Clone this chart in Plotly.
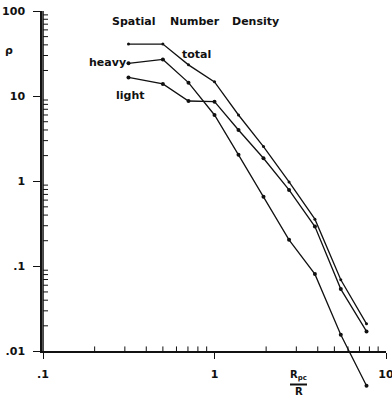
import plotly.graph_objects as go

# data
r_over_rbar = [0.315, 0.5, 0.705, 1.0, 1.38, 1.93, 2.72, 3.85, 5.45, 7.7]
total = [40.9, 40.9, 23.3, 14.7, 6.0, 2.55, 0.98, 0.358, 0.0695, 0.0211]
heavy = [24.3, 27.0, 14.4, 6.0, 2.04, 0.659, 0.205, 0.081, 0.0157, 0.00395]
light = [16.6, 13.9, 8.76, 8.6, 4.0, 1.86, 0.79, 0.293, 0.054, 0.0172]

y_tickvals = [0.01, 0.1, 1, 10, 100]
y_ticktext = [".01", ".1", "1", "10", "100"]
x_tickvals = [0.1, 1, 10]
x_ticktext = [".1", "1", "10"]
y_minor = [k * 10.0 ** e for e in (-2, -1, 0, 1) for k in range(2, 10)]
x_minor = [k * 10.0 ** e for e in (-1, 0) for k in range(2, 10)]

W, H = 392, 402
L, R, T, B = 42, 6, 11, 8
FONT = "DejaVu Sans"
Y_RANGE = [-2.0, 2.0]        # visible axis (.01 .. 100)
Y_BELOW = [-2.5, -2.0]       # strip under the x axis where the heavy curve ends
X_RANGE = [-1.006, 1.0]
y_dom0 = (Y_BELOW[1] - Y_BELOW[0]) / (Y_RANGE[1] - Y_BELOW[0])

def px(x, y):
    return (x - L) / (W - L - R), (H - B - y) / (H - T - B)

fig = go.Figure()
line_style = dict(color="#111", width=1.3)
series = [("total", total, 3), ("heavy", heavy, 4), ("light", light, 4)]
for name, vals, ms in series:
    fig.add_trace(go.Scatter(
        x=r_over_rbar, y=vals, mode="lines+markers", name=name,
        xaxis="x", yaxis="y", line=line_style,
        marker=dict(color="#111", size=ms, symbol="circle"),
        cliponaxis=True, showlegend=False, hoverinfo="x+y+name"))
# the heavy curve continues below the x axis (same data, lower strip of the same scale)
fig.add_trace(go.Scatter(
    x=r_over_rbar, y=heavy, mode="lines+markers", name="heavy",
    xaxis="x", yaxis="y3", line=line_style,
    marker=dict(color="#111", size=4, symbol="circle"),
    cliponaxis=True, showlegend=False, hoverinfo="x+y+name"))
# vertical axis line at x = .1 spanning the labelled y range
fig.add_trace(go.Scatter(
    x=[x_tickvals[0], x_tickvals[0]], y=[y_tickvals[0], y_tickvals[-1]], mode="lines",
    xaxis="x", yaxis="y", line=dict(color="#111", width=1.5),
    showlegend=False, hoverinfo="skip"))

tickfont = dict(family=FONT, size=11, color="#111", weight="bold")
base = dict(type="log", showgrid=False, zeroline=False, tickcolor="#111", automargin=False)

fig.update_layout(
    xaxis=dict(range=X_RANGE, domain=[0, 1], anchor="y",
               tickvals=x_tickvals, ticktext=x_ticktext, ticks="outside", ticklen=6,
               tickwidth=1.3, tickfont=tickfont, ticklabelstandoff=6,
               ticklabeloverflow="allow",
               showline=True, linecolor="#111", linewidth=1.5, **base),
    yaxis=dict(range=Y_RANGE, domain=[y_dom0, 1], anchor="x",
               tickvals=y_tickvals, ticktext=y_ticktext, ticks="outside", ticklen=7,
               tickwidth=1.3, tickfont=tickfont, ticklabelstandoff=6,
               ticklabeloverflow="allow",
               showline=True, linecolor="#111", linewidth=1.5, **base),
    yaxis3=dict(range=Y_BELOW, domain=[0, y_dom0], anchor="x", visible=False,
                type="log", showgrid=False, zeroline=False, automargin=False),
)

# minor ticks pointing into the plot
tick_line = dict(color="#111", width=1)
for v in x_minor:
    fig.add_shape(type="line", xref="x", yref="y", x0=v, x1=v,
                  ysizemode="pixel", yanchor=y_tickvals[0], y0=0, y1=5, line=tick_line)
for v in y_minor:
    fig.add_shape(type="line", xref="x", yref="y", y0=v, y1=v,
                  xsizemode="pixel", xanchor=x_tickvals[0], x0=0, x1=5, line=tick_line)

labels = [("Spatial", 133.3, 21.5), ("Number", 195, 21.5), ("Density", 255.8, 21.5),
          ("total", 196.3, 54), ("heavy", 107, 62.5), ("light", 130.3, 95.5),
          ("ρ", 8.5, 51)]
annotations = []
for text, x, y in labels:
    xp, yp = px(x, y)
    annotations.append(dict(text="<b>%s</b>" % text, x=xp, y=yp, xref="paper", yref="paper",
                            showarrow=False, xanchor="center", yanchor="middle",
                            font=dict(family=FONT, size=11, color="#111")))
# axis title as a fraction R_pc / R
xp, yp = px(298, 375)
annotations.append(dict(text="<b>R<sub>pc</sub></b>", x=xp, y=yp, xref="paper", yref="paper",
                        showarrow=False, xanchor="center", yanchor="middle",
                        font=dict(family=FONT, size=10, color="#111")))
xp, yp = px(299, 391)
annotations.append(dict(text="<b>R</b>", x=xp, y=yp, xref="paper", yref="paper",
                        showarrow=False, xanchor="center", yanchor="middle",
                        font=dict(family=FONT, size=10, color="#111")))
x0, y0 = px(290, 384.5)
x1, _ = px(307, 384.5)
fig.add_shape(type="line", xref="paper", yref="paper", x0=x0, x1=x1, y0=y0, y1=y0,
              line=dict(color="#111", width=2))

fig.update_layout(width=W, height=H, margin=dict(l=L, r=R, t=T, b=B),
                  paper_bgcolor="white", plot_bgcolor="rgba(0,0,0,0)",
                  annotations=annotations)

fig.write_html("out.html", config={"displayModeBar": False},
               post_script="document.body.style.margin='0';")
